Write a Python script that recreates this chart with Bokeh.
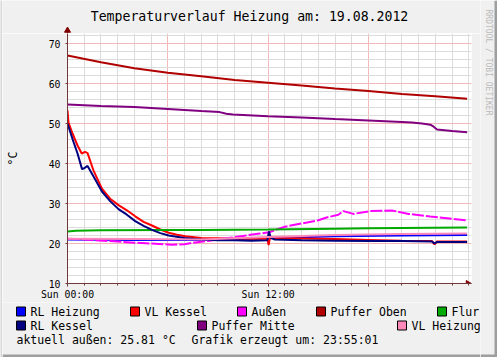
import math
from bokeh.plotting import figure
from bokeh.layouts import row, column
from bokeh.models import FixedTicker, Range1d
from bokeh.core.properties import value
from bokeh.embed import file_html
from bokeh.resources import INLINE

# ---------------- data ----------------
TITLE = "Temperaturverlauf Heizung am: 19.08.2012"
Y_UNIT = "°C"
WATERMARK = "RRDTOOL / TOBI OETIKER"
FOOTER_1 = "aktuell außen: 25.81 °C"
FOOTER_2 = "Grafik erzeugt um: 23:55:01"
X_TICKS = [0, 6, 12, 18]
X_MINOR = list(range(0, 25))
X_LABELS = {0: "Sun 00:00", 6: "", 12: "Sun 12:00", 18: ""}
Y_TICKS = [10, 20, 30, 40, 50, 60, 70]
Y_MINOR = list(range(10, 74, 2))

# hours since 00:00 / temperature in °C
t_rl_heizung = [0, 4, 8, 10, 12, 16, 20, 23.9]
v_rl_heizung = [21.0, 20.9, 20.9, 21.1, 21.3, 21.8, 22.0, 22.1]

t_vl_kessel = [0, 0.06, 0.3, 0.6, 0.85, 1.05, 1.2, 1.55, 2.06, 2.55, 3.05, 3.55, 4.05, 4.55,
               5.05, 5.55, 6.05, 6.55, 7.05, 8, 9, 10, 11, 11.95, 12.03, 12.1, 13, 16, 18, 20,
               21.8, 21.95, 22.1, 23.9]
v_vl_kessel = [53.3, 50.2, 47.5, 44.5, 42.5, 42.9, 42.6, 38.3, 33.7, 31.2, 29.6, 28.3, 26.8, 25.4,
               24.5, 23.5, 22.7, 22.2, 21.8, 21.4, 21.3, 21.2, 21.2, 21.2, 19.6, 21.3, 21.3, 21.1,
               20.9, 20.7, 20.6, 19.8, 20.5, 20.5]

t_aussen = [0, 1, 2.5, 4, 5.5, 6.2, 7.0, 7.5, 8.5, 9.5, 10.5, 11.5, 12.05, 13.0, 14.0, 15.0,
            15.5, 16.2, 16.5, 17.1, 18.1, 19.4, 20.4, 21.7, 23.9]
v_aussen = [21.2, 21.0, 20.6, 20.2, 19.9, 19.7, 19.8, 20.2, 20.7, 21.3, 21.9, 22.5, 22.8, 24.2,
            25.0, 25.8, 26.5, 27.2, 28.1, 27.4, 28.1, 28.25, 27.4, 26.75, 25.8]

t_puffer_oben = [0, 2, 4, 6, 8, 10, 12, 14, 16, 18, 20, 22, 23.9]
v_puffer_oben = [67.0, 65.3, 63.8, 62.7, 61.8, 60.9, 60.2, 59.5, 58.75, 58.1, 57.4, 56.8, 56.2]

t_flur = [0, 0.5, 2, 6, 8, 12, 16, 18, 20, 23.9]
v_flur = [23.0, 23.2, 23.3, 23.4, 23.4, 23.5, 23.7, 23.8, 23.9, 24.0]

t_rl_kessel = [0, 0.35, 0.6, 0.87, 1.0, 1.2, 1.55, 2.06, 2.55, 3.05, 3.55, 4.05, 4.55, 5.05,
               5.55, 6.05, 7, 8, 9, 10, 11, 11.95, 12.05, 12.15, 12.4, 14, 16, 18, 20, 21.8,
               21.95, 22.1, 23.9]
v_rl_kessel = [50.0, 45.5, 42.5, 38.6, 38.8, 39.4, 36.8, 33.0, 30.6, 28.6, 27.2, 25.6, 24.4, 23.4,
               22.6, 22.0, 21.4, 21.0, 20.8, 20.8, 20.7, 20.8, 23.0, 21.5, 21.0, 20.8, 20.7, 20.6,
               20.6, 20.5, 20.0, 20.4, 20.4]

t_puffer_mitte = [0, 2, 4, 6, 8, 9.1, 9.5, 9.9, 12, 14, 16, 18, 20, 20.6, 21.2, 21.7, 21.9,
                  22.1, 23, 23.9]
v_puffer_mitte = [54.75, 54.4, 54.1, 53.6, 53.1, 52.85, 52.45, 52.25, 51.8, 51.5, 51.1, 50.75,
                  50.4, 50.25, 50.0, 49.7, 49.2, 48.5, 48.1, 47.8]

t_vl_heizung = [0, 4, 8, 10, 12, 16, 20, 23.9]
v_vl_heizung = [21.2, 21.1, 21.0, 21.3, 21.6, 22.1, 22.4, 22.5]

NAMES = ["RL Heizung", "VL Kessel", "Außen", "Puffer Oben", "Flur",
         "RL Kessel", "Puffer Mitte", "VL Heizung"]
COLORS = ["#0000FF", "#FF0000", "#FF00FF", "#B00000", "#00AA00",
          "#000080", "#800080", "#FF88BB"]
SERIES = [(t_rl_heizung, v_rl_heizung), (t_vl_kessel, v_vl_kessel), (t_aussen, v_aussen),
          (t_puffer_oben, v_puffer_oben), (t_flur, v_flur), (t_rl_kessel, v_rl_kessel),
          (t_puffer_mitte, v_puffer_mitte), (t_vl_heizung, v_vl_heizung)]

# ---------------- layout (canvas pixels) ----------------
W, H = 497, 357
LS = 2            # left shade strip width
RS_X = 480        # right strip starts here
TOP_H = 33        # title area height
FRAME_L, FRAME_R, FRAME_T, FRAME_B = 67, 471, 33, 283
MAIN_B = 302      # bottom of main figure
PX_PER_H = 16.72

MONO = "DejaVu Sans Mono"
BG = "#F0F0F0"
AXIS_COL = "#703838"
ARROW_COL = "#7F0000"
SHADE_A = "#D6D6D6"
SHADE_B = "#9E9E9E"


def aux(x0, x1, y0, y1, fill=BG):
    f = figure(width=x1 - x0, height=y1 - y0, output_backend="svg", toolbar_location=None,
               x_range=Range1d(x0, x1), y_range=Range1d(y1, y0),
               x_axis_location=None, y_axis_location=None,
               min_border=0, outline_line_color=None,
               background_fill_color=fill, border_fill_color=fill)
    f.grid.visible = False
    return f


def txt(f, xs, ys, texts, size, color="#000000", align="left", angle=0.0):
    f.text(x=xs, y=ys, text=texts, text_font=value(MONO), text_font_size=value(size),
           text_color=color, text_align=align, text_baseline="middle", angle=angle)


# --- left shade strip
left = aux(0, LS, 0, H, fill=SHADE_A)

# --- title figure
top = aux(LS, RS_X, 0, TOP_H)
txt(top, [249], [16], [TITLE], "13.2px", align="center")
top.segment(x0=[FRAME_L], y0=[TOP_H], x1=[FRAME_L], y1=[29], line_color=AXIS_COL, line_width=1)
top.scatter(x=[FRAME_L], y=[30], marker="triangle", size=6,
            fill_color=ARROW_COL, line_color=ARROW_COL)

# --- main figure
x_end = (FRAME_R - FRAME_L) / PX_PER_H
p = figure(width=RS_X - LS, height=MAIN_B - TOP_H, output_backend="svg", toolbar_location=None,
           x_range=Range1d(0, x_end), y_range=Range1d(10, 72.5),
           min_border_left=FRAME_L - LS, min_border_right=RS_X - FRAME_R,
           min_border_top=0, min_border_bottom=MAIN_B - FRAME_B,
           background_fill_color="#FFFFFF", border_fill_color=BG,
           outline_line_color=None)

xa = p.xaxis[0]
xa.ticker = FixedTicker(ticks=X_TICKS, minor_ticks=X_MINOR)
xa.major_label_overrides = X_LABELS
ya = p.yaxis[0]
ya.ticker = FixedTicker(ticks=Y_TICKS, minor_ticks=Y_MINOR)
for ax in (xa, ya):
    ax.axis_line_color = AXIS_COL
    ax.axis_line_width = 1
    ax.major_tick_line_color = AXIS_COL
    ax.minor_tick_line_color = AXIS_COL
    ax.major_label_text_font = MONO
    ax.major_label_text_font_size = "9.8px"
    ax.major_label_text_color = "#000000"
    ax.major_tick_in = 0
    ax.minor_tick_in = 0
xa.major_tick_out = 3
xa.minor_tick_out = 2
xa.major_label_standoff = 2
ya.major_tick_out = 2
ya.minor_tick_out = 0
ya.major_label_standoff = 5
ya.axis_label = Y_UNIT
ya.axis_label_text_font = MONO
ya.axis_label_text_font_size = "11.5px"
ya.axis_label_text_font_style = "normal"
ya.axis_label_text_color = "#000000"
ya.axis_label_standoff = 26

for g in (p.xgrid[0], p.ygrid[0]):
    g.grid_line_color = "#F2B8B8"
    g.grid_line_width = 1
    g.minor_grid_line_color = "#DCDCDC"
    g.minor_grid_line_width = 1

for (t, v), c, n in zip(SERIES, COLORS, NAMES):
    kw = {"line_dash": "12 2"} if n == "Außen" else {}
    p.line(t, v, line_color=c, line_width=2, **kw)

# x-axis arrow head
p.scatter(x=[(FRAME_R - 3.5 - FRAME_L) / PX_PER_H], y=[10], marker="triangle", size=6,
          angle=-math.pi / 2, fill_color=ARROW_COL, line_color=ARROW_COL)

# --- legend figure
leg = aux(LS, RS_X, MAIN_B, H)
LEG_X = [16, 130, 237, 316, 437, 16, 197, 397]
LEG_Y = [311, 311, 311, 311, 311, 325, 325, 325]
leg.rect(x=[x + 4.5 for x in LEG_X], y=LEG_Y, width=9, height=9,
         fill_color=COLORS, line_color="#000000", line_width=1)
txt(leg, [x + 14 for x in LEG_X], LEG_Y, NAMES, "11.5px")
txt(leg, [16, 191], [339, 339], [FOOTER_1, FOOTER_2], "11.5px")
leg.quad(left=[LS], right=[RS_X], top=[H - 3], bottom=[H], fill_color=SHADE_B, line_color=None)

# --- right strip
rs = aux(RS_X, W, 0, H)
txt(rs, [488], [62], [WATERMARK], "8px", color="#BBBBBB", align="center", angle=-math.pi / 2)
rs.quad(left=[W - 3], right=[W], top=[0], bottom=[H], fill_color=SHADE_B, line_color=None)
rs.quad(left=[RS_X], right=[W], top=[H - 3], bottom=[H], fill_color=SHADE_B, line_color=None)

# wrap each figure separately so that their frames are not aligned to each other
layout = row(left, column(row(top), row(p), row(leg)), rs)
open("out.html", "w").write(file_html(layout, INLINE))
